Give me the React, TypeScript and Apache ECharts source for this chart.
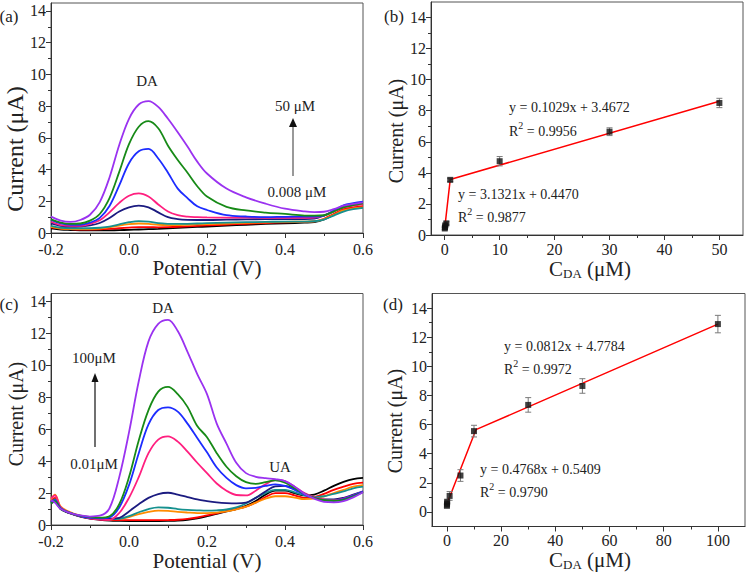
import React, { useEffect, useRef } from "react";
import * as echarts from "echarts";

// ---------- Panel (a): DPV, potential (V) vs current (µA) ----------
const potA = [-0.2, -0.175, -0.15, -0.125, -0.1, -0.075, -0.05, -0.025, 0, 0.025, 0.05, 0.075, 0.1, 0.125, 0.15, 0.175, 0.2, 0.25, 0.3, 0.35, 0.4, 0.45, 0.475, 0.5, 0.525, 0.55, 0.575, 0.6];
const blackA = [0.3, 0.22, 0.19, 0.17, 0.16, 0.16, 0.17, 0.18, 0.2, 0.22, 0.24, 0.26, 0.29, 0.32, 0.35, 0.38, 0.41, 0.47, 0.52, 0.57, 0.61, 0.65, 0.68, 0.85, 1.15, 1.45, 1.58, 1.65];
const redA = [0.35, 0.27, 0.24, 0.22, 0.22, 0.23, 0.26, 0.3, 0.34, 0.37, 0.37, 0.36, 0.37, 0.39, 0.42, 0.45, 0.48, 0.53, 0.58, 0.63, 0.67, 0.7, 0.73, 0.9, 1.2, 1.5, 1.62, 1.7];
const orangeA = [0.38, 0.28, 0.25, 0.24, 0.25, 0.28, 0.35, 0.47, 0.56, 0.6, 0.58, 0.52, 0.5, 0.5, 0.52, 0.54, 0.56, 0.6, 0.64, 0.67, 0.7, 0.72, 0.74, 0.88, 1.15, 1.42, 1.55, 1.62];
const tealA = [0.45, 0.33, 0.3, 0.3, 0.3, 0.33, 0.4, 0.55, 0.68, 0.75, 0.72, 0.62, 0.58, 0.57, 0.58, 0.6, 0.62, 0.65, 0.68, 0.7, 0.72, 0.72, 0.74, 0.85, 1.1, 1.35, 1.5, 1.58];
const navyA = [0.61, 0.45, 0.4, 0.42, 0.48, 0.63, 0.95, 1.36, 1.62, 1.72, 1.62, 1.3, 1.0, 0.88, 0.83, 0.82, 0.82, 0.84, 0.86, 0.87, 0.88, 0.88, 0.9, 1.1, 1.4, 1.7, 1.8, 1.85];
const pinkA = [0.71, 0.5, 0.45, 0.45, 0.58, 0.8, 1.3, 1.9, 2.35, 2.5, 2.3, 1.8, 1.35, 1.12, 1.03, 1.0, 0.98, 0.97, 0.97, 0.96, 0.95, 0.95, 0.97, 1.1, 1.35, 1.6, 1.72, 1.8];
const blueA = [0.82, 0.6, 0.52, 0.52, 0.65, 0.95, 1.7, 3.0, 4.4, 5.15, 5.3, 4.7, 3.8, 2.8, 2.2, 1.68, 1.45, 1.12, 1.04, 1.0, 1.02, 1.03, 1.03, 1.1, 1.4, 1.75, 1.88, 1.97];
const greenA = [0.86, 0.66, 0.58, 0.6, 0.78, 1.2, 2.2, 3.85, 5.6, 6.7, 7.05, 6.6, 5.5, 4.6, 3.8, 2.95, 2.3, 1.65, 1.42, 1.29, 1.2, 1.1, 1.09, 1.12, 1.35, 1.62, 1.75, 1.87];
const purpleA = [1.03, 0.78, 0.7, 0.82, 1.15, 1.95, 3.5, 5.55, 7.2, 8.1, 8.31, 7.95, 7.2, 6.35, 5.45, 4.5, 3.75, 2.8, 2.25, 1.85, 1.53, 1.36, 1.32, 1.34, 1.5, 1.72, 1.83, 1.93];

// ---------- Panel (c): DPV with UA ----------
const potC = [-0.2, -0.19, -0.175, -0.15, -0.125, -0.1, -0.075, -0.05, -0.025, 0, 0.025, 0.05, 0.075, 0.1, 0.125, 0.15, 0.175, 0.2, 0.225, 0.25, 0.275, 0.3, 0.325, 0.35, 0.375, 0.4, 0.425, 0.45, 0.475, 0.5, 0.525, 0.55, 0.575, 0.6];
const blackC = [1.45, 1.6, 1.0, 0.72, 0.52, 0.4, 0.33, 0.28, 0.26, 0.25, 0.25, 0.25, 0.25, 0.26, 0.28, 0.33, 0.42, 0.55, 0.7, 0.85, 1.0, 1.2, 1.5, 1.9, 2.15, 2.15, 2.0, 1.85, 1.9, 2.15, 2.45, 2.7, 2.88, 2.95];
const redC = [1.5, 1.7, 1.05, 0.75, 0.55, 0.42, 0.35, 0.32, 0.3, 0.3, 0.3, 0.3, 0.3, 0.31, 0.33, 0.38, 0.47, 0.6, 0.73, 0.87, 1.0, 1.15, 1.4, 1.75, 2.0, 2.0, 1.85, 1.7, 1.75, 1.95, 2.2, 2.4, 2.58, 2.65];
const orangeC = [1.6, 1.9, 1.15, 0.8, 0.58, 0.45, 0.38, 0.35, 0.38, 0.5, 0.68, 0.82, 0.9, 0.88, 0.82, 0.78, 0.75, 0.75, 0.78, 0.85, 0.98, 1.15, 1.4, 1.65, 1.8, 1.8, 1.72, 1.62, 1.65, 1.8, 2.0, 2.2, 2.4, 2.5];
const tealC = [1.4, 1.6, 1.05, 0.75, 0.55, 0.45, 0.38, 0.35, 0.38, 0.55, 0.8, 1.0, 1.1, 1.08, 1.0, 0.95, 0.92, 0.9, 0.92, 0.97, 1.1, 1.35, 1.7, 2.0, 2.2, 2.2, 2.05, 1.85, 1.75, 1.8, 1.95, 2.1, 2.3, 2.4];
const navyC = [1.35, 1.45, 1.0, 0.72, 0.55, 0.45, 0.42, 0.4, 0.45, 0.85, 1.3, 1.7, 1.94, 2.02, 1.9, 1.75, 1.6, 1.5, 1.42, 1.37, 1.35, 1.4, 1.7, 2.1, 2.42, 2.45, 2.25, 1.95, 1.72, 1.6, 1.6, 1.7, 1.9, 2.1];
const pinkC = [1.67, 1.85, 1.1, 0.75, 0.55, 0.42, 0.34, 0.32, 0.75, 1.7, 3.0, 4.5, 5.35, 5.55, 5.22, 4.6, 3.9, 3.25, 2.6, 2.15, 1.88, 1.85, 2.15, 2.55, 2.82, 2.75, 2.4, 2.0, 1.75, 1.6, 1.55, 1.65, 1.85, 2.1];
const blueC = [1.45, 1.55, 1.05, 0.75, 0.55, 0.45, 0.42, 0.48, 1.1, 2.5, 4.5, 6.3, 7.2, 7.37, 7.1, 6.35, 5.45, 4.55, 3.6, 2.95, 2.5, 2.3, 2.33, 2.45, 2.55, 2.45, 2.2, 1.9, 1.7, 1.55, 1.52, 1.62, 1.85, 2.1];
const greenC = [1.35, 1.5, 1.0, 0.75, 0.58, 0.5, 0.46, 0.55, 1.3, 3.0, 5.3, 7.2, 8.35, 8.65, 8.2, 7.4, 6.2, 5.5, 4.5, 3.65, 3.05, 2.68, 2.57, 2.68, 2.8, 2.65, 2.3, 1.95, 1.7, 1.55, 1.52, 1.58, 1.8, 2.05];
const purpleC = [1.56, 1.4, 1.0, 0.75, 0.6, 0.53, 0.58, 1.05, 3.0, 5.8, 9.0, 11.5, 12.6, 12.85, 12.15, 10.85, 9.45, 8.2, 6.35, 5.1, 3.9, 3.25, 3.02, 2.93, 2.87, 2.75, 2.4, 1.95, 1.65, 1.45, 1.42, 1.5, 1.73, 2.05];

// ---------- Panel (b): calibration ----------
const concB = [0.008, 0.05, 0.1, 0.3, 1, 10, 30, 50];
const currB = [0.42, 0.5, 0.62, 0.75, 3.55, 4.75, 6.65, 8.5];
const errB = [0.08, 0.1, 0.1, 0.1, 0.1, 0.3, 0.25, 0.3];
const slopeB = [3.1321, 0.1029];
const interceptB = [0.447, 3.4672];

// ---------- Panel (d): calibration ----------
const concD = [0.01, 0.05, 0.1, 1, 5, 10, 30, 50, 100];
const currD = [0.42, 0.55, 0.7, 1.1, 2.5, 5.55, 7.35, 8.65, 12.9];
const errD = [0.1, 0.1, 0.1, 0.3, 0.4, 0.4, 0.5, 0.5, 0.6];
const slopeD = [0.4768, 0.0812];
const interceptD = [0.5409, 4.7784];

// tick values
const potMajor = [-0.2, 0, 0.2, 0.4, 0.6];
const potMinor = [-0.1, 0.1, 0.3, 0.5];
const curMajor = [0, 2, 4, 6, 8, 10, 12, 14];
const curMinor = [1, 3, 5, 7, 9, 11, 13];
const concBMajor = [0, 10, 20, 30, 40, 50];
const concBMinor = [5, 15, 25, 35, 45];
const concDMajor = [0, 20, 40, 60, 80, 100];
const concDMinor = [10, 30, 50, 70, 90];

const FONT = '"Liberation Serif", "Times New Roman", serif';
const AX = "#333";

const COL = {
  black: "#000000",
  red: "#ff0000",
  orange: "#ff8c00",
  teal: "#16918f",
  navy: "#1b1b80",
  pink: "#ff1f7f",
  blue: "#1c2cff",
  green: "#178a17",
  purple: "#9a32f0",
};

function mkAxes(g: number, min: number, max: number, major: number[], minor: number[], fmt: (v: number) => string, dir: "x" | "y", margin: number) {
  const pos = dir === "x" ? "bottom" : "left";
  const main = {
    type: "value",
    gridIndex: g,
    position: pos,
    min,
    max,
    axisLine: { show: true, onZero: false, lineStyle: { color: AX, width: 1 } },
    axisTick: { show: true, inside: false, length: 5, customValues: major, lineStyle: { color: AX } },
    axisLabel: { show: true, customValues: major, formatter: fmt, fontFamily: FONT, fontSize: 16, color: "#222", margin },
    splitLine: { show: false },
  };
  const minorAx = {
    type: "value",
    gridIndex: g,
    position: pos,
    min,
    max,
    axisLine: { show: false, onZero: false },
    axisTick: { show: true, inside: false, length: 3, customValues: minor, lineStyle: { color: AX } },
    axisLabel: { show: false },
    splitLine: { show: false },
  };
  return [main, minorAx];
}

function curve(g: number, pot: number[], vals: number[], color: string) {
  return {
    type: "line",
    xAxisIndex: 2 * g,
    yAxisIndex: 2 * g,
    data: pot.map((p, i) => [p, vals[i]]),
    showSymbol: false,
    smooth: 0.35,
    lineStyle: { color, width: 1.8 },
    itemStyle: { color },
    silent: true,
  };
}

function errSeries(g: number, xs: number[], ys: number[], es: number[]) {
  return {
    type: "custom",
    xAxisIndex: 2 * g,
    yAxisIndex: 2 * g,
    data: xs.map((x, i) => [x, ys[i], es[i]]),
    encode: { x: 0, y: 1 },
    z: 3,
    renderItem: (_p: any, api: any) => {
      const x = api.value(0);
      const y = api.value(1);
      const e = api.value(2);
      const t = api.coord([x, y + e]);
      const b = api.coord([x, y - e]);
      const w = 3;
      const st = { stroke: "#7a7a7a", lineWidth: 1 };
      return {
        type: "group",
        children: [
          { type: "line", shape: { x1: t[0], y1: t[1], x2: b[0], y2: b[1] }, style: st },
          { type: "line", shape: { x1: t[0] - w, y1: t[1], x2: t[0] + w, y2: t[1] }, style: st },
          { type: "line", shape: { x1: b[0] - w, y1: b[1], x2: b[0] + w, y2: b[1] }, style: st },
        ],
      };
    },
  };
}

function fitLine(g: number, slopes: number[], intercepts: number[], xEnd: number) {
  const xi = (intercepts[1] - intercepts[0]) / (slopes[0] - slopes[1]);
  const pts = [
    [0, intercepts[0]],
    [xi, slopes[0] * xi + intercepts[0]],
    [xEnd, slopes[1] * xEnd + intercepts[1]],
  ];
  return {
    type: "line",
    xAxisIndex: 2 * g,
    yAxisIndex: 2 * g,
    data: pts,
    showSymbol: false,
    lineStyle: { color: "#ff0000", width: 1.5 },
    z: 2,
    silent: true,
  };
}

function pointSeries(g: number, xs: number[], ys: number[]) {
  return {
    type: "scatter",
    xAxisIndex: 2 * g,
    yAxisIndex: 2 * g,
    data: xs.map((x, i) => [x, ys[i]]),
    symbol: "rect",
    symbolSize: 6,
    itemStyle: { color: "#111" },
    z: 4,
    silent: true,
  };
}

function txt(x: number, y: number, text: string, size: number, align = "center", extra: any = {}) {
  return {
    type: "text",
    x,
    y,
    z: 10,
    style: { text, font: `${size}px ${FONT}`, fill: "#222", align, verticalAlign: "middle", ...extra },
  };
}

function richR2(x: number, y: number, val: string) {
  return {
    type: "text",
    x,
    y,
    z: 10,
    style: {
      text: `{m|R}{s|2}{m| = ${val}}`,
      align: "left",
      verticalAlign: "middle",
      fill: "#222",
      rich: {
        m: { fontFamily: FONT, fontSize: 14, lineHeight: 18, verticalAlign: "bottom", fill: "#222" },
        s: { fontFamily: FONT, fontSize: 10, lineHeight: 10, verticalAlign: "top", fill: "#222" },
      },
    },
  };
}

function concName(x: number, y: number) {
  return {
    type: "text",
    x,
    y,
    z: 10,
    style: {
      text: "{m|C}{s|DA}{m| (μM)}",
      align: "center",
      verticalAlign: "middle",
      fill: "#222",
      rich: {
        m: { fontFamily: FONT, fontSize: 21, lineHeight: 22, verticalAlign: "top", fill: "#222" },
        s: { fontFamily: FONT, fontSize: 13, lineHeight: 13, verticalAlign: "bottom", fill: "#222" },
      },
    },
  };
}

function yName(x: number, y: number, size: number) {
  return {
    type: "text",
    x,
    y,
    rotation: Math.PI / 2,
    z: 10,
    style: { text: "Current (μA)", font: `${size}px ${FONT}`, fill: "#222", align: "center", verticalAlign: "middle" },
  };
}

export default function App() {
  const ref = useRef<HTMLDivElement>(null);
  useEffect(() => {
    if (!ref.current) return;
    const chart = echarts.init(ref.current, null, { renderer: "svg" });
    const potFmt = (v: number) => v.toFixed(1);
    const intFmt = (v: number) => String(Math.round(v));

    const xa = mkAxes(0, -0.2, 0.6, potMajor, potMinor, potFmt, "x", 8);
    const ya = mkAxes(0, 0, 14.5, curMajor, curMinor, intFmt, "y", 5);
    const xb = mkAxes(1, -2.5, 54.3, concBMajor, concBMinor, intFmt, "x", 6);
    const yb = mkAxes(1, 0, 15, curMajor, curMinor, intFmt, "y", 5);
    const xc = mkAxes(2, -0.2, 0.6, potMajor, potMinor, potFmt, "x", 8.5);
    const yc = mkAxes(2, 0, 14.5, curMajor, curMinor, intFmt, "y", 5);
    const xd = mkAxes(3, -5.5, 110, concDMajor, concDMinor, intFmt, "x", 6);
    const yd = mkAxes(3, -1, 15, curMajor, curMinor, intFmt, "y", 5);

    const gridStyle = { show: true, borderColor: "#555", borderWidth: 1, backgroundColor: "transparent" };

    const option: any = {
      animation: false,
      backgroundColor: "#ffffff",
      grid: [
        { left: 51, top: 3, width: 312, height: 230, ...gridStyle },
        { left: 431, top: 2, width: 312, height: 233, ...gridStyle },
        { left: 51, top: 293.5, width: 312, height: 231.5, ...gridStyle },
        { left: 432, top: 293.5, width: 313, height: 233, ...gridStyle },
      ],
      xAxis: [...xa, ...xb, ...xc, ...xd],
      yAxis: [...ya, ...yb, ...yc, ...yd],
      series: [
        curve(0, potA, blackA, COL.black),
        curve(0, potA, redA, COL.red),
        curve(0, potA, orangeA, COL.orange),
        curve(0, potA, tealA, COL.teal),
        curve(0, potA, navyA, COL.navy),
        curve(0, potA, pinkA, COL.pink),
        curve(0, potA, blueA, COL.blue),
        curve(0, potA, greenA, COL.green),
        curve(0, potA, purpleA, COL.purple),
        fitLine(1, slopeB, interceptB, 50),
        errSeries(1, concB, currB, errB),
        pointSeries(1, concB, currB),
        curve(2, potC, blackC, COL.black),
        curve(2, potC, redC, COL.red),
        curve(2, potC, orangeC, COL.orange),
        curve(2, potC, tealC, COL.teal),
        curve(2, potC, navyC, COL.navy),
        curve(2, potC, pinkC, COL.pink),
        curve(2, potC, blueC, COL.blue),
        curve(2, potC, greenC, COL.green),
        curve(2, potC, purpleC, COL.purple),
        fitLine(3, slopeD, interceptD, 100),
        errSeries(3, concD, currD, errD),
        pointSeries(3, concD, currD),
      ],
      graphic: [
        // panel letters
        txt(9, 16, "(a)", 17),
        txt(394, 16, "(b)", 17),
        txt(9, 304, "(c)", 17),
        txt(393, 304, "(d)", 17),
        // axis names
        yName(15, 149, 24),
        yName(396, 131, 20),
        yName(16, 414, 20),
        yName(395, 421, 20),
        txt(207, 268, "Potential (V)", 21),
        txt(207, 560.5, "Potential (V)", 21),
        concName(590, 269),
        concName(590, 560),
        // panel (a) annotations
        txt(147, 81, "DA", 15),
        txt(295, 106, "50 μM", 15),
        txt(297, 191.5, "0.008 μM", 15),
        { type: "line", z: 10, shape: { x1: 293, y1: 176, x2: 293, y2: 126 }, style: { stroke: "#555", lineWidth: 1.2 } },
        { type: "polygon", z: 10, shape: { points: [[293, 118], [289, 127], [297, 127]] }, style: { fill: "#111" } },
        // panel (c) annotations
        txt(163, 308, "DA", 15),
        txt(94, 358, "100μM", 15),
        txt(94, 464, "0.01μM", 15),
        txt(280, 467, "UA", 15),
        { type: "line", z: 10, shape: { x1: 95, y1: 447, x2: 95, y2: 381 }, style: { stroke: "#111", lineWidth: 1.2 } },
        { type: "polygon", z: 10, shape: { points: [[95, 373], [91.5, 382], [98.5, 382]] }, style: { fill: "#111" } },
        // equations (b)
        txt(509, 107, "y = 0.1029x + 3.4672", 14, "left"),
        richR2(509, 129, "0.9956"),
        txt(458, 194, "y = 3.1321x + 0.4470", 14, "left"),
        richR2(458, 215, "0.9877"),
        // equations (d)
        txt(504, 346, "y = 0.0812x + 4.7784", 14, "left"),
        richR2(504, 367, "0.9972"),
        txt(480, 469, "y = 0.4768x + 0.5409", 14, "left"),
        richR2(480, 490, "0.9790"),
      ],
    };
    chart.setOption(option);
    return () => chart.dispose();
  }, []);
  return <div ref={ref} style={{ position: "absolute", left: 0, top: 0, width: 749, height: 575, background: "#fff" }} />;
}
